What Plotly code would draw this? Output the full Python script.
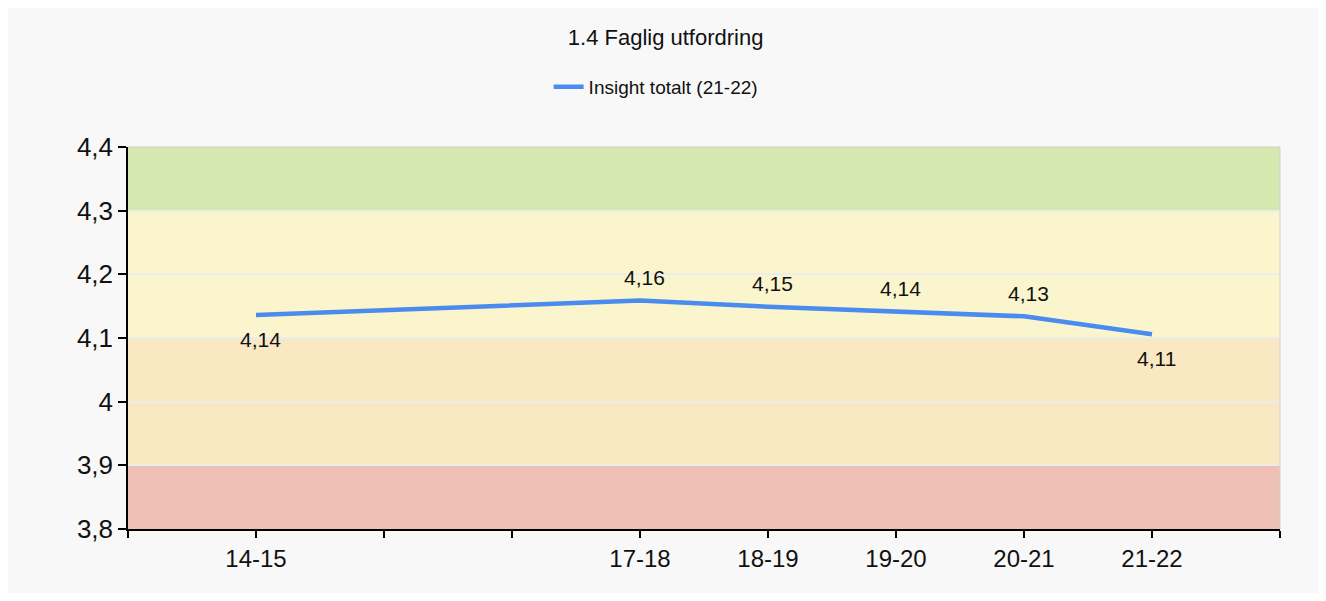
import plotly.graph_objects as go

categories = ["14-15", "15-16", "16-17", "17-18", "18-19", "19-20", "20-21", "21-22"]
tick_labels = ["14-15", "", "", "17-18", "18-19", "19-20", "20-21", "21-22"]
values = [4.136, None, None, 4.159, 4.149, 4.141, 4.134, 4.106]
value_labels = ["4,14", None, None, "4,16", "4,15", "4,14", "4,13", "4,11"]
label_side = ["below", None, None, "above", "above", "above", "above", "below"]

bands = [  # (y0, y1, colour)
    (4.3, 4.4, "#d4e8b0"),
    (4.1, 4.3, "#faf5cc"),
    (3.9, 4.1, "#fae8c3"),
    (3.8, 3.9, "#efc1b6"),
]

FONT = "Liberation Sans, Arial, sans-serif"

xs = list(range(len(categories)))

fig = go.Figure()
fig.add_trace(go.Scatter(
    x=xs, y=values, mode="lines", connectgaps=True,
    name="Insight totalt (21-22)",
    line=dict(color="#4a8bf0", width=4.5),
))

shapes = []
for y0, y1, c in bands:
    shapes.append(dict(type="rect", xref="paper", yref="y", x0=0, x1=1, y0=y0, y1=y1,
                       fillcolor=c, line=dict(width=0), layer="below"))
shapes.append(dict(type="line", xref="paper", yref="paper", x0=0, x1=1, y0=1, y1=1,
                   line=dict(color="#d0d0d0", width=1), layer="above"))
shapes.append(dict(type="line", xref="paper", yref="paper", x0=1, x1=1, y0=0, y1=1,
                   line=dict(color="#d0d0d0", width=1), layer="above"))

annotations = []
for x, v, t, side in zip(xs, values, value_labels, label_side):
    if v is None:
        continue
    annotations.append(dict(x=x, y=v, text=t, showarrow=False, xshift=4,
                            yshift=23 if side == "above" else -24,
                            font=dict(family=FONT, size=21, color="#111111")))

fig.update_layout(
    width=1310, height=585,
    margin=dict(l=120, r=38, t=139, b=64),
    paper_bgcolor="#f8f8f8", plot_bgcolor="#faf5cc",
    separators=", ",
    font=dict(family=FONT, color="#111111"),
    title=dict(text="1.4 Faglig utfordring", x=0.502, xanchor="center", xref="container",
               y=1 - 29 / 585, yanchor="middle", yref="container",
               font=dict(family=FONT, size=22, color="#111111")),
    showlegend=True,
    legend=dict(orientation="h", x=0.458, xanchor="center", y=1 + 60 / 382, yanchor="middle",
                bgcolor="rgba(0,0,0,0)", font=dict(family=FONT, size=19, color="#111111")),
    shapes=shapes, annotations=annotations,
)
fig.update_xaxes(
    range=[-1, len(categories)], tickmode="array",
    tickvals=[-1] + xs + [len(categories)],
    ticktext=[""] + tick_labels + [""],
    showgrid=False, zeroline=False, showline=True, linecolor="#000000", linewidth=1.5,
    ticks="outside", ticklen=7, tickcolor="#000000", tickwidth=1.5,
    tickfont=dict(family=FONT, size=24, color="#111111"),
)
fig.update_yaxes(
    range=[3.8, 4.4], dtick=0.1, tick0=3.8,
    showgrid=True, gridcolor="#ececec", gridwidth=1.5, zeroline=False,
    showline=True, linecolor="#000000", linewidth=1.5,
    ticks="outside", ticklen=8, tickcolor="#000000", tickwidth=1.5,
    tickfont=dict(family=FONT, size=26, color="#111111"),
)
fig.write_html("out.html")
